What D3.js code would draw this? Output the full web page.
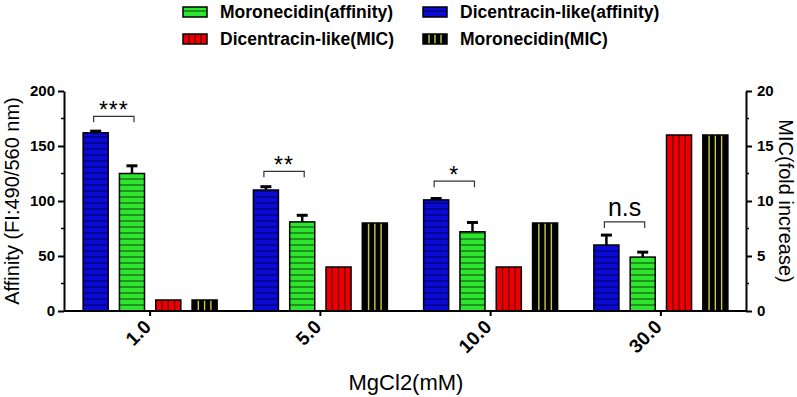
<!DOCTYPE html>
<html>
<head>
<meta charset="utf-8">
<script src="https://cdn.jsdelivr.net/npm/d3@7"></script>
<style>
  body { margin: 0; background: #fff; }
  svg { font-family: "Liberation Sans", Arial, sans-serif; }
  .tick text { font-weight: bold; font-size: 15px; fill: #000; }
  .x-axis .tick text { font-size: 19px; }
</style>
</head>
<body>
<svg width="797" height="397"></svg>
<script>
const categories = ['1.0', '5.0', '10.0', '30.0'];
const seriesNames = ['Dicentracin-like(affinity)', 'Moronecidin(affinity)', 'Dicentracin-like(MIC)', 'Moronecidin(MIC)'];

const dicAffinity = [162, 110, 101, 60];
const dicAffinityErr = [1.5, 3, 1.3, 9];
const moroAffinity = [125, 81, 72, 49];
const moroAffinityErr = [7, 6, 8.5, 4.5];
const dicMIC = [1, 4, 4, 16];
const moroMIC = [1, 8, 8, 16];

const sigLabels = ['***', '**', '*', 'n.s'];
const sigLevels = [177, 127, 118, 81];

const svg = d3.select('svg');

const plotLeft = 64, plotRight = 746, plotTop = 91, plotBottom = 311;

const xScale = d3.scaleBand().domain(categories).range([65, 746]);
const xInner = d3.scaleBand().domain(seriesNames).range([-67, 67]).paddingInner(0.31);
const yLeft = d3.scaleLinear().domain([0, 200]).range([plotBottom, plotTop]);
const yRight = d3.scaleLinear().domain([0, 20]).range([plotBottom, plotTop]);

const style = {
  'Dicentracin-like(affinity)': { fill: '#0a0ad2', line: '#000070', dir: 'h' },
  'Moronecidin(affinity)': { fill: '#2ee62e', line: '#1a5a1a', dir: 'h' },
  'Dicentracin-like(MIC)': { fill: '#ea0000', line: '#7a0000', dir: 'v' },
  'Moronecidin(MIC)': { fill: '#000000', line: '#c8c84a', dir: 'v' }
};

// bar records
const bars = [];
categories.forEach((c, i) => {
  bars.push({ cat: c, s: seriesNames[0], v: dicAffinity[i], err: dicAffinityErr[i], y: yLeft });
  bars.push({ cat: c, s: seriesNames[1], v: moroAffinity[i], err: moroAffinityErr[i], y: yLeft });
  bars.push({ cat: c, s: seriesNames[2], v: dicMIC[i], err: 0, y: yRight });
  bars.push({ cat: c, s: seriesNames[3], v: moroMIC[i], err: 0, y: yRight });
});

function drawStripes(g, x, y0, w, h, s) {
  const st = style[s];
  if (st.dir === 'h') {
    d3.range(6, h, 6).forEach(off => {
      g.append('line')
        .attr('x1', x).attr('x2', x + w)
        .attr('y1', y0 + h - off).attr('y2', y0 + h - off)
        .attr('stroke', st.line).attr('stroke-width', 1.2);
    });
  } else {
    [0.25, 0.5, 0.75].forEach(f => {
      g.append('line')
        .attr('x1', x + w * f).attr('x2', x + w * f)
        .attr('y1', y0).attr('y2', y0 + h)
        .attr('stroke', st.line).attr('stroke-width', 1.4);
    });
  }
}

const barG = svg.append('g');
bars.forEach(d => {
  const x = xScale(d.cat) + xScale.bandwidth() / 2 + xInner(d.s);
  const w = xInner.bandwidth();
  const yTop = d.y(d.v);
  const h = plotBottom - yTop;
  const g = barG.append('g');
  g.append('rect').attr('x', x).attr('y', yTop).attr('width', w).attr('height', h)
    .attr('fill', style[d.s].fill);
  drawStripes(g, x, yTop, w, h, d.s);
  g.append('rect').attr('x', x).attr('y', yTop).attr('width', w).attr('height', h)
    .attr('fill', 'none').attr('stroke', '#000').attr('stroke-width', 1.5);
  if (d.err > 0) {
    const cx = x + w / 2;
    const ye = d.y(d.v + d.err);
    g.append('line').attr('x1', cx).attr('x2', cx).attr('y1', yTop).attr('y2', ye)
      .attr('stroke', '#000').attr('stroke-width', 2.5);
    g.append('line').attr('x1', cx - 5.5).attr('x2', cx + 5.5).attr('y1', ye).attr('y2', ye)
      .attr('stroke', '#000').attr('stroke-width', 3);
  }
});

// significance brackets
categories.forEach((c, i) => {
  const x1 = xScale(c) + xScale.bandwidth() / 2 + xInner(seriesNames[0]) + xInner.bandwidth() / 2 - 2;
  const x2 = xScale(c) + xScale.bandwidth() / 2 + xInner(seriesNames[1]) + xInner.bandwidth() / 2 + 2;
  const yb = yLeft(sigLevels[i]);
  svg.append('path')
    .attr('d', `M${x1},${yb + 6}V${yb}H${x2}V${yb + 6}`)
    .attr('fill', 'none').attr('stroke', '#333').attr('stroke-width', 1.2);
  const ns = sigLabels[i] === 'n.s';
  svg.append('text')
    .attr('x', (x1 + x2) / 2)
    .attr('y', ns ? yb - 6 : yb + 2)
    .attr('text-anchor', 'middle')
    .attr('font-size', ns ? 25 : 23)
    .attr('letter-spacing', ns ? 0 : 1)
    .text(sigLabels[i]);
});

// axes
const yAxisL = svg.append('g').attr('transform', `translate(${plotLeft},0)`)
  .call(d3.axisLeft(yLeft).tickValues([0, 50, 100, 150, 200]).tickSize(6).tickSizeOuter(0).tickPadding(3));
yAxisL.append('g').selectAll('line').data([25, 75, 125, 175]).join('line')
  .attr('x1', 0).attr('x2', -3).attr('y1', d => yLeft(d)).attr('y2', d => yLeft(d))
  .attr('stroke', '#000').attr('stroke-width', 1.5);

const yAxisR = svg.append('g').attr('transform', `translate(${plotRight},0)`)
  .call(d3.axisRight(yRight).tickValues([0, 5, 10, 15, 20]).tickSize(6).tickSizeOuter(0).tickPadding(5));
yAxisR.append('g').selectAll('line').data([2.5, 7.5, 12.5, 17.5]).join('line')
  .attr('x1', 0).attr('x2', 3).attr('y1', d => yRight(d)).attr('y2', d => yRight(d))
  .attr('stroke', '#000').attr('stroke-width', 1.5);

const xAxis = svg.append('g').attr('class', 'x-axis').attr('transform', `translate(0,${plotBottom})`)
  .call(d3.axisBottom(xScale).tickSize(5).tickSizeOuter(0));
xAxis.select('.domain').attr('d', `M${plotLeft},0H${plotRight}`);
xAxis.selectAll('.tick text')
  .attr('text-anchor', 'end')
  .attr('dy', null)
  .attr('transform', 'translate(2,17) rotate(-45)')
  .attr('y', 0).attr('x', 0);

svg.selectAll('.domain, .tick line').attr('stroke', '#000').attr('stroke-width', 2);

// axis titles
svg.append('text')
  .attr('transform', `translate(19,${(plotTop + plotBottom) / 2}) rotate(-90)`)
  .attr('text-anchor', 'middle').attr('font-size', 20)
  .text('Affinity (FI:490/560 nm)');
svg.append('text')
  .attr('transform', `translate(779,${(plotTop + plotBottom) / 2}) rotate(90)`)
  .attr('text-anchor', 'middle').attr('font-size', 20)
  .text('MIC(fold increase)');
svg.append('text')
  .attr('x', 406).attr('y', 390)
  .attr('text-anchor', 'middle').attr('font-size', 22)
  .text('MgCl2(mM)');

// legend
const legendItems = [
  { s: 'Moronecidin(affinity)', x: 183, y: 12 },
  { s: 'Dicentracin-like(affinity)', x: 423, y: 12 },
  { s: 'Dicentracin-like(MIC)', x: 183, y: 39 },
  { s: 'Moronecidin(MIC)', x: 423, y: 39 }
];
legendItems.forEach(d => {
  const g = svg.append('g');
  const w = 24, h = 10;
  g.append('rect').attr('x', d.x).attr('y', d.y - h / 2).attr('width', w).attr('height', h)
    .attr('fill', style[d.s].fill);
  drawStripes(g, d.x, d.y - h / 2, w, h, d.s);
  g.append('rect').attr('x', d.x).attr('y', d.y - h / 2).attr('width', w).attr('height', h)
    .attr('fill', 'none').attr('stroke', '#000').attr('stroke-width', 1.5);
  g.append('text').attr('x', d.x + 37).attr('y', d.y + 6)
    .attr('font-size', 17.5).attr('font-weight', 'bold')
    .text(d.s);
});
</script>
</body>
</html>
